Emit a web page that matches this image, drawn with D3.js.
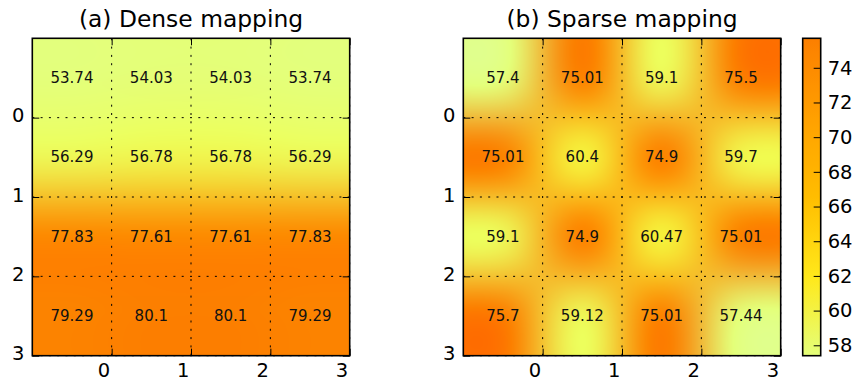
<!DOCTYPE html>
<html>
<head>
<meta charset="utf-8">
<script src="https://cdn.jsdelivr.net/npm/d3@7"></script>
<style>
  html, body { margin: 0; padding: 0; background: #fff; }
  svg { display: block; font-family: "DejaVu Sans", sans-serif; }
</style>
</head>
<body>
<svg id="chart" width="858" height="388"></svg>
<script>
// Values of the two 4x4 mappings (row by row, top row first)
const denseValues = [
  [53.74, 54.03, 54.03, 53.74],
  [56.29, 56.78, 56.78, 56.29],
  [77.83, 77.61, 77.61, 77.83],
  [79.29, 80.1, 80.1, 79.29]
];
const sparseValues = [
  [57.4, 75.01, 59.1, 75.5],
  [75.01, 60.4, 74.9, 59.7],
  [59.1, 74.9, 60.47, 75.01],
  [75.7, 59.12, 75.01, 57.44]
];
const titles = ["(a) Dense mapping", "(b) Sparse mapping"];
const xTicks = [0, 1, 2, 3];
const yTicks = [0, 1, 2, 3];
const colorbarTicks = [58, 60, 62, 64, 66, 68, 70, 72, 74];

// Wistia colour map
const wistiaStops = ["#e4ff7a", "#ffe81a", "#ffbd00", "#ffa000", "#fc7f00"];
const wistia = d3.scaleLinear().domain([0, 0.25, 0.5, 0.75, 1]).range(wistiaStops).clamp(true);

const svg = d3.select("#chart");
const tickFont = 19.5, titleFont = 23.4, cellFont = 15;
const panels = [
  { values: denseValues, title: titles[0], x0: 32.3, x1: 349.7 },
  { values: sparseValues, title: titles[1], x0: 463.3, x1: 780.7 }
];
const plotTop = 38.3, plotBottom = 355.7;
const intFmt = d3.format("d");

// bicubic (Keys, a = -0.5) kernel used to smooth the cell colours
function cubic(t) {
  const a = -0.5;
  t = Math.abs(t);
  if (t < 1) return (a + 2) * t * t * t - (a + 3) * t * t + 1;
  if (t < 2) return a * t * t * t - 5 * a * t * t + 8 * a * t - 4 * a;
  return 0;
}

function renderImage(values, norm, w, h) {
  const n = values.length, m = values[0].length;
  const cols = values.map(r => r.map(v => d3.rgb(wistia(norm(v)))));
  const canvas = document.createElement("canvas");
  canvas.width = w; canvas.height = h;
  const ctx = canvas.getContext("2d");
  const img = ctx.createImageData(w, h);
  const clampI = (i, k) => Math.max(0, Math.min(k - 1, i));
  for (let py = 0; py < h; py++) {
    const v = (py + 0.5) / h * n - 0.5;
    const vj = Math.floor(v);
    const wy = [], iy = [];
    for (let k = -1; k <= 2; k++) { iy.push(clampI(vj + k, n)); wy.push(cubic(v - (vj + k))); }
    for (let px = 0; px < w; px++) {
      const u = (px + 0.5) / w * m - 0.5;
      const ui = Math.floor(u);
      let r = 0, g = 0, b = 0, ws = 0;
      for (let a = 0; a < 4; a++) {
        for (let k = -1; k <= 2; k++) {
          const wt = wy[a] * cubic(u - (ui + k));
          const c = cols[iy[a]][clampI(ui + k, m)];
          r += wt * c.r; g += wt * c.g; b += wt * c.b; ws += wt;
        }
      }
      const o = (py * w + px) * 4;
      img.data[o] = r / ws; img.data[o + 1] = g / ws; img.data[o + 2] = b / ws; img.data[o + 3] = 255;
    }
  }
  ctx.putImageData(img, 0, 0);
  return canvas.toDataURL();
}

panels.forEach(p => {
  const x = d3.scaleLinear().domain([-1, 3]).range([p.x0, p.x1]);
  const y = d3.scaleLinear().domain([-1, 3]).range([plotTop, plotBottom]);
  const norm = d3.scaleLinear().domain(d3.extent(p.values.flat())).range([0, 1]);
  const g = svg.append("g");

  const w = Math.round(p.x1 - p.x0), h = Math.round(plotBottom - plotTop);
  g.append("image")
    .attr("x", p.x0).attr("y", plotTop)
    .attr("width", p.x1 - p.x0).attr("height", plotBottom - plotTop)
    .attr("preserveAspectRatio", "none")
    .attr("href", renderImage(p.values, norm, w, h));

  // dotted grid
  g.selectAll(".gx").data(xTicks).join("line")
    .attr("x1", d => x(d)).attr("x2", d => x(d)).attr("y1", plotTop).attr("y2", plotBottom)
    .attr("stroke", "#000").attr("stroke-width", 1).attr("stroke-dasharray", "2,6.3");
  g.selectAll(".gy").data(yTicks).join("line")
    .attr("y1", d => y(d)).attr("y2", d => y(d)).attr("x1", p.x0).attr("x2", p.x1)
    .attr("stroke", "#000").attr("stroke-width", 1).attr("stroke-dasharray", "2,6.3");

  // value labels at cell centres
  p.values.forEach((row, i) => row.forEach((v, j) => {
    g.append("text")
      .attr("x", x(j - 0.5)).attr("y", y(i - 0.5))
      .attr("text-anchor", "middle").attr("dominant-baseline", "central")
      .attr("font-size", cellFont).attr("fill", "#111")
      .text(String(v));
  }));

  // axes with inward ticks
  const axB = g.append("g").attr("transform", `translate(0,${plotBottom})`)
    .call(d3.axisBottom(x).tickValues(xTicks).tickFormat(intFmt).tickSizeInner(-7).tickSizeOuter(0).tickPadding(7.5));
  axB.selectAll("text").attr("text-anchor", "end").attr("dx", -2);
  const axL = g.append("g").attr("transform", `translate(${p.x0},0)`)
    .call(d3.axisLeft(y).tickValues(yTicks).tickFormat(intFmt).tickSizeInner(-7).tickSizeOuter(0).tickPadding(8));
  axL.selectAll("text").attr("dy", "0.22em");
  g.append("g").attr("transform", `translate(0,${plotTop})`)
    .call(d3.axisTop(x).tickValues(xTicks).tickSizeInner(-7).tickSizeOuter(0).tickFormat(""));
  g.append("g").attr("transform", `translate(${p.x1},0)`)
    .call(d3.axisRight(y).tickValues(yTicks).tickSizeInner(-7).tickSizeOuter(0).tickFormat(""));
  g.selectAll(".domain").remove();
  g.selectAll(".tick line").attr("stroke", "#000").attr("stroke-width", 1);
  g.selectAll(".tick text").attr("font-size", tickFont).attr("font-family", "DejaVu Sans").attr("fill", "#000");

  g.append("rect").attr("x", p.x0).attr("y", plotTop)
    .attr("width", p.x1 - p.x0).attr("height", plotBottom - plotTop)
    .attr("fill", "none").attr("stroke", "#000").attr("stroke-width", 1.6);

  g.append("text")
    .attr("x", (p.x0 + p.x1) / 2).attr("y", 27)
    .attr("text-anchor", "middle").attr("font-size", titleFont).attr("fill", "#000")
    .text(p.title);
});

// colour bar for the sparse mapping
const cbX0 = 802.7, cbX1 = 820.7;
const sparseExtent = d3.extent(sparseValues.flat());
const cbScale = d3.scaleLinear().domain(sparseExtent).range([plotBottom, plotTop]);
const grad = svg.append("defs").append("linearGradient")
  .attr("id", "cbgrad").attr("x1", 0).attr("y1", 1).attr("x2", 0).attr("y2", 0);
d3.range(0, 1.0001, 0.05).forEach(t => {
  grad.append("stop").attr("offset", t).attr("stop-color", wistia(t));
});
svg.append("rect").attr("x", cbX0).attr("y", plotTop)
  .attr("width", cbX1 - cbX0).attr("height", plotBottom - plotTop)
  .attr("fill", "url(#cbgrad)");
const cbAxis = svg.append("g").attr("transform", `translate(${cbX1},0)`)
  .call(d3.axisRight(cbScale).tickValues(colorbarTicks).tickFormat(intFmt).tickSizeInner(-7).tickSizeOuter(0).tickPadding(7));
cbAxis.select(".domain").remove();
cbAxis.selectAll(".tick line").attr("stroke", "#000").attr("stroke-width", 1);
cbAxis.selectAll(".tick text").attr("font-size", tickFont).attr("font-family", "DejaVu Sans").attr("fill", "#000");
svg.append("rect").attr("x", cbX0).attr("y", plotTop)
  .attr("width", cbX1 - cbX0).attr("height", plotBottom - plotTop)
  .attr("fill", "none").attr("stroke", "#000").attr("stroke-width", 1.6);
</script>
</body>
</html>
